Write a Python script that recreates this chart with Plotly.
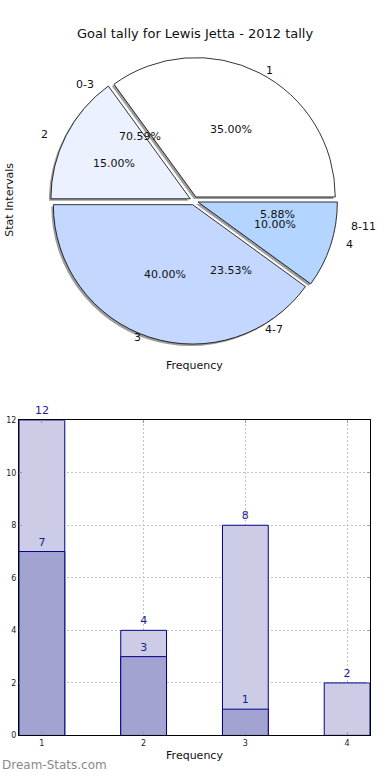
import math
import plotly.graph_objects as go

# ---------------- data ----------------
title_text = "Goal tally for Lewis Jetta - 2012 tally"
pie1_labels = ["1", "2", "3", "4"]
pie1_values = [7, 3, 8, 2]
pie2_labels = ["0-3", "4-7", "8-11"]
pie2_values = [12, 4, 1]
pie_colors = ["#ffffff", "#ebf1ff", "#c3d7ff", "#b3d5ff"]

bar_x = [1, 2, 3, 4]
bar_light = [12, 4, 8, 2]
bar_dark = [7, 3, 1, 0]
y_ticks = [0, 2, 4, 6, 8, 10, 12]

W, H = 390, 780
FONT = "DejaVu Sans"

def px(x):
    return x / W

def py(y):
    return 1 - y / H

# pie geometry (pixels)
pcx, pcy = 194, 199
r = 141
pull = 0.03
half = r * (1 + pull)

def dom(dx=0, dy=0):
    return dict(x=[px(pcx - half + dx), px(pcx + half + dx)],
                y=[py(pcy + half + dy), py(pcy - half + dy)])

# plotly (counterclockwise) puts the first slice clockwise of the rotation line,
# so rotate by the first slice's share to start it at 3 o'clock going CCW
rot = 90 - 360 * pie1_values[0] / sum(pie1_values)

fig = go.Figure()

# shadow
fig.add_trace(go.Pie(
    labels=pie1_labels, values=pie1_values, sort=False, direction="counterclockwise",
    rotation=rot, pull=[pull] * len(pie1_values), domain=dom(-2, 2),
    marker=dict(colors=["rgba(60,60,60,0.5)"] * 4, line=dict(width=0)),
    textinfo="none", hoverinfo="skip", showlegend=False))

# main pie
fig.add_trace(go.Pie(
    labels=pie1_labels, values=pie1_values, sort=False, direction="counterclockwise",
    rotation=rot, pull=[pull] * len(pie1_values), domain=dom(),
    marker=dict(colors=pie_colors, line=dict(color="black", width=0.8)),
    textinfo="none", showlegend=False))

annotations = []
cx, cy = 192, 198
rx, ry = 145, 133

def pie_text(labels, values):
    total = sum(values)
    start = 0.0
    for lab, v in zip(labels, values):
        frac = v / total
        mid = math.radians(360 * (start + frac / 2))
        start += frac
        c, s = math.cos(mid), math.sin(mid)
        lx, ly = cx + 1.1 * rx * c, cy - 1.1 * ry * s
        annotations.append(dict(
            x=px(lx), y=py(ly), xref="paper", yref="paper", text=lab, showarrow=False,
            xanchor="left" if c > 0 else "right", yanchor="middle",
            font=dict(family=FONT, size=11, color="#111")))
        tx, ty = cx + 0.6 * rx * c, cy - 0.6 * ry * s
        annotations.append(dict(
            x=px(tx), y=py(ty), xref="paper", yref="paper", text="%.2f%%" % (100 * frac),
            showarrow=False, xanchor="center", yanchor="middle",
            font=dict(family=FONT, size=11, color="#111")))

pie_text(pie1_labels, pie1_values)
pie_text(pie2_labels, pie2_values)

annotations += [
    dict(x=px(195), y=py(30), xref="paper", yref="paper", text=title_text, showarrow=False,
         xanchor="center", yanchor="middle", font=dict(family=FONT, size=13, color="#111")),
    dict(x=px(194), y=py(366), xref="paper", yref="paper", text="Frequency", showarrow=False,
         xanchor="center", yanchor="middle", font=dict(family=FONT, size=11, color="#111")),
    dict(x=px(10), y=py(198), xref="paper", yref="paper", text="Stat Intervals", showarrow=False,
         textangle=-90, xanchor="center", yanchor="middle",
         font=dict(family=FONT, size=11, color="#111")),
    dict(x=px(0), y=py(770), xref="paper", yref="paper", text="Dream-Stats.com", showarrow=False,
         xanchor="left", yanchor="middle", font=dict(family=FONT, size=12, color="#8a8a8a")),
]

# bars
txtfont = dict(family=FONT, size=11, color="#1c1c94")
fig.add_trace(go.Bar(
    x=bar_x, y=bar_light, width=0.45, marker=dict(color="#cccce6", line=dict(color="#00008b", width=1)),
    text=[str(v) if v else "" for v in bar_light], textposition="outside", textfont=txtfont,
    cliponaxis=False, showlegend=False, xaxis="x", yaxis="y"))
fig.add_trace(go.Bar(
    x=bar_x, y=bar_dark, width=0.45, marker=dict(color="#a3a3d1", line=dict(color="#00008b", width=1)),
    text=[str(v) if v else "" for v in bar_dark], textposition="outside", textfont=txtfont,
    cliponaxis=False, showlegend=False, xaxis="x", yaxis="y"))

axis_common = dict(showline=True, linecolor="black", linewidth=1, mirror="ticks",
                   showgrid=True, gridcolor="#c4c4c4", griddash="2px,2px", gridwidth=1,
                   ticks="inside", ticklen=3, tickcolor="#999", zeroline=False,
                   tickfont=dict(family=FONT, size=8, color="#222"))

fig.update_layout(
    autosize=True,
    margin=dict(l=0, r=0, t=0, b=0),
    paper_bgcolor="white", plot_bgcolor="white",
    barmode="overlay",
    annotations=annotations,
    xaxis=dict(domain=[px(19), px(370)], range=[0.775, 4.225], tickvals=bar_x,
               title=dict(text="Frequency", standoff=4, font=dict(family=FONT, size=11, color="#111")),
               anchor="y", **axis_common),
    yaxis=dict(domain=[py(740), py(421)], range=[0, 12], tickvals=y_ticks,
               anchor="x", **axis_common),
    font=dict(family=FONT),
)

post = (
    "document.documentElement.style.overflow='hidden';"
    "document.body.style.margin='0';"
    "document.body.style.overflow='hidden';"
    "var d=document.getElementById('{plot_id}');"
    "d.style.position='fixed';d.style.top='0';d.style.left='0';"
    "d.style.width='100vw';d.style.height='100vh';"
    "Plotly.Plots.resize(d);"
)
fig.write_html("out.html", post_script=post, config={"displayModeBar": False, "responsive": True},
               default_width="100vw", default_height="100vh")
